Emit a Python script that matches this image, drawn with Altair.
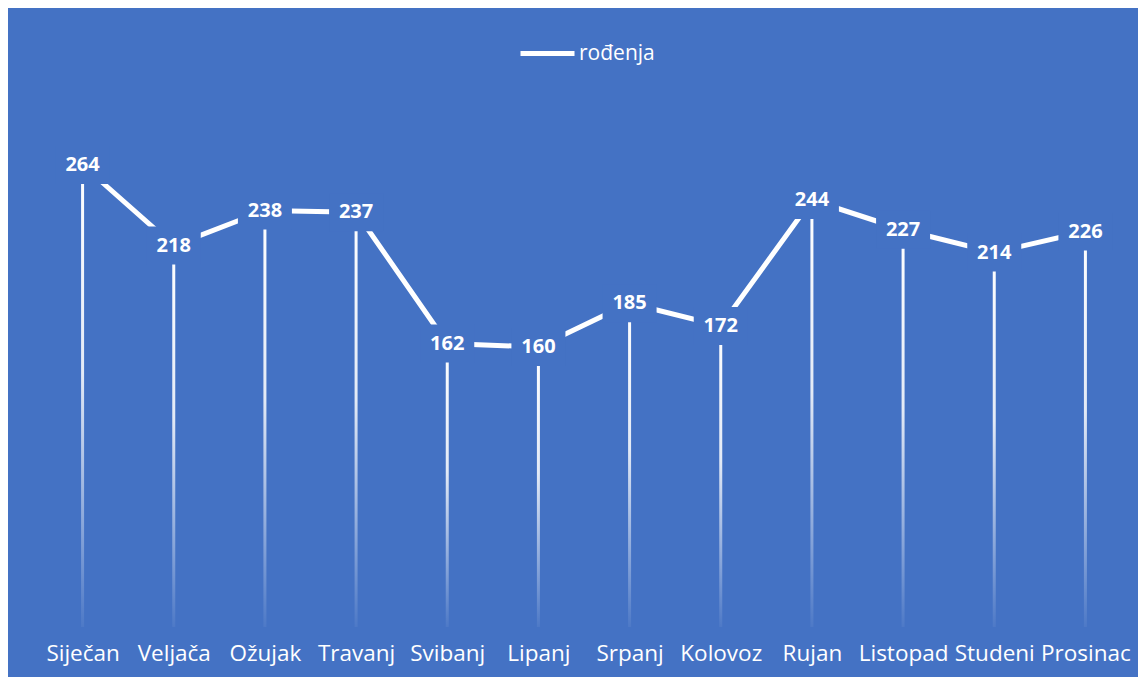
import altair as alt
import pandas as pd

months = ["Siječan", "Veljača", "Ožujak", "Travanj", "Svibanj", "Lipanj",
          "Srpanj", "Kolovoz", "Rujan", "Listopad", "Studeni", "Prosinac"]
births = [264, 218, 238, 237, 162, 160, 185, 172, 244, 227, 214, 226]
series_name = "rođenja"

df = pd.DataFrame({"mjesec": months, "rodenja": births, "serija": [series_name] * len(months)})

BLUE = "#4472C4"
FONT = "Open Sans"

x = alt.X("mjesec:N", sort=months,
          scale=alt.Scale(type="point", padding=0.5),
          axis=alt.Axis(title=None, labelAngle=0, domain=False, ticks=False, grid=False,
                        labelColor="white", labelFontSize=22.5, labelFont=FONT,
                        labelPadding=15))
y = alt.Y("rodenja:Q", scale=alt.Scale(domain=[0, 300]), axis=None)

grad = alt.LinearGradient(
    gradient="linear",
    stops=[alt.GradientStop(color="rgba(255,255,255,1)", offset=0),
           alt.GradientStop(color="rgba(255,255,255,0.85)", offset=0.45),
           alt.GradientStop(color="rgba(255,255,255,0.05)", offset=1)],
    x1=0, x2=0, y1=0, y2=1)

base = alt.Chart(df)

drops = base.mark_bar(width=3, fill=grad).encode(x=x, y=y)

line = base.mark_line(strokeWidth=5, strokeCap="butt").encode(
    x=x, y=y,
    color=alt.Color("serija:N", scale=alt.Scale(range=["white"]),
                    legend=alt.Legend(title=None, orient="none", legendX=481, legendY=-78,
                                      symbolType="stroke", symbolSize=2916,
                                      symbolStrokeWidth=5, labelColor="white",
                                      labelFont=FONT, labelFontSize=21, labelOffset=2)))

boxes = base.mark_point(shape="M-1,-0.7L1,-0.7L1,0.7L-1,0.7Z", filled=True,
                        fill=BLUE, opacity=1, size=2916, strokeWidth=0).encode(x=x, y=y)

labels = base.mark_text(font=FONT, fontSize=20, fontWeight="bold", color="white").encode(
    x=x, y=y, text="rodenja:Q")

chart = alt.layer(drops, line, boxes, labels).properties(
    width=1094, height=525,
    padding={"left": 29, "top": 16, "right": 7, "bottom": 12},
    background=BLUE,
).configure_view(stroke=None)

chart.save("out.html", embed_options={"renderer": "svg", "actions": False})
